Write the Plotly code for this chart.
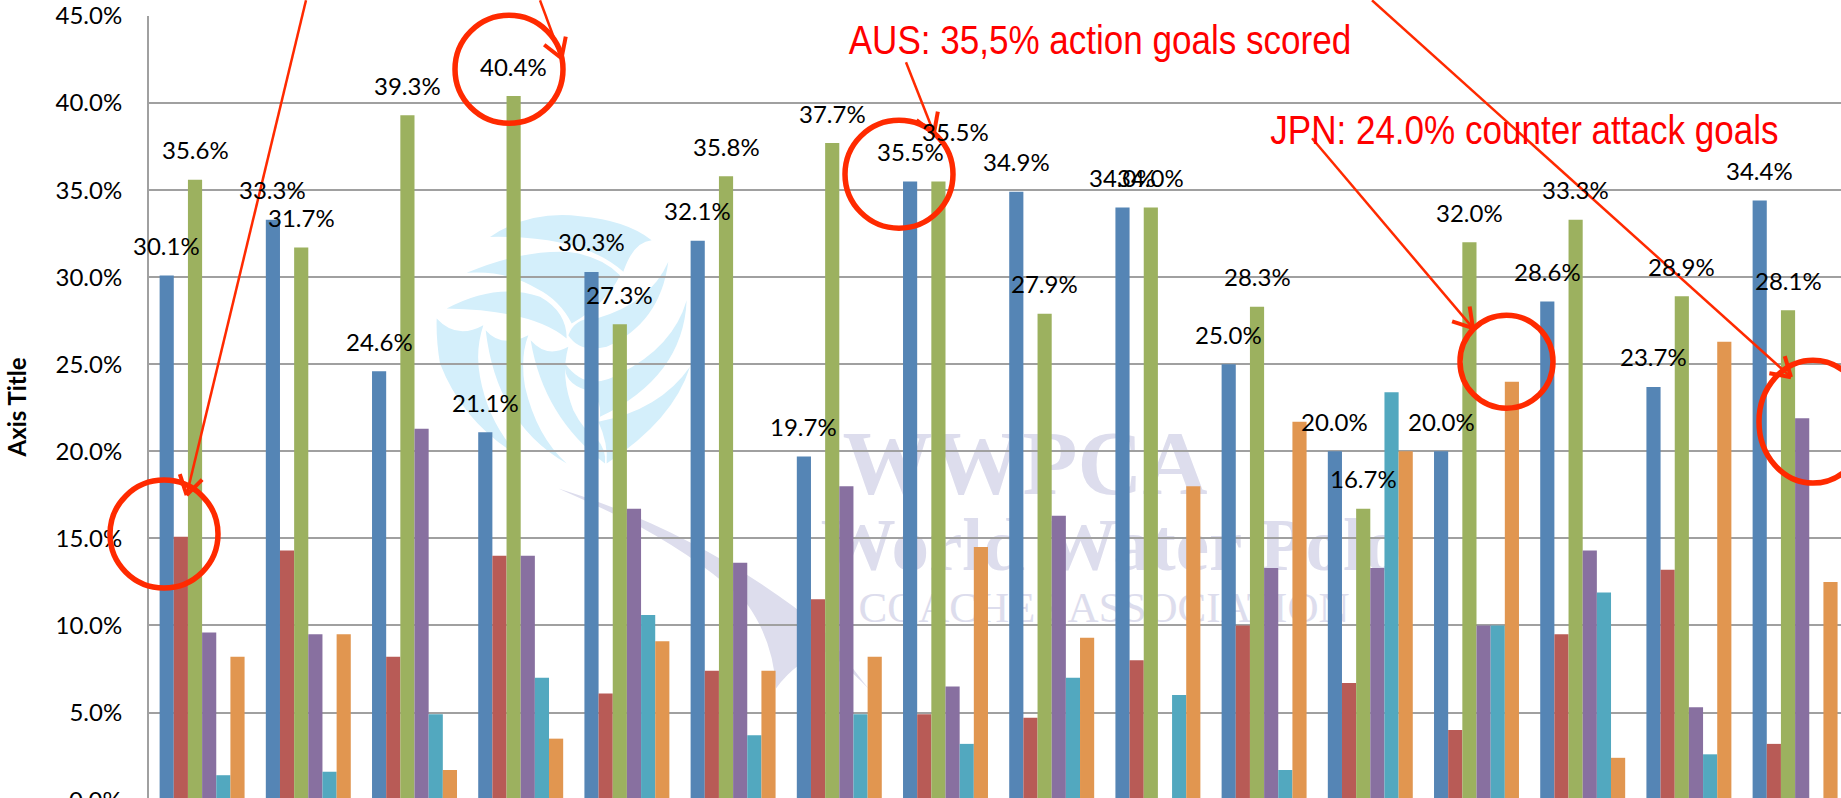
import math
import plotly.graph_objects as go

GROUPS = list(range(1, 17))
SERIES_A = [30.1, 33.3, 24.6, 21.1, 30.3, 32.1, 19.7, 35.5, 34.9, 34.0, 25.0, 20.0, 20.0, 28.6, 23.7, 34.4]
SERIES_B = [15.1, 14.3, 8.2, 14.0, 6.1, 7.4, 11.5, 4.9, 4.7, 8.0, 10.0, 6.7, 4.0, 9.5, 13.2, 3.2]
SERIES_C = [35.6, 31.7, 39.3, 40.4, 27.3, 35.8, 37.7, 35.5, 27.9, 34.0, 28.3, 16.7, 32.0, 33.3, 28.9, 28.1]
SERIES_D = [9.6, 9.5, 21.3, 14.0, 16.7, 13.6, 18.0, 6.5, 16.3, None, 13.3, 13.3, 10.0, 14.3, 5.3, 21.9]
SERIES_E = [1.4, 1.6, 4.9, 7.0, 10.6, 3.7, 4.9, 3.2, 7.0, 6.0, 1.7, 23.4, 10.0, 11.9, 2.6, None]
SERIES_F = [8.2, 9.5, 1.7, 3.5, 9.1, 7.4, 8.2, 14.5, 9.3, 18.0, 21.7, 20.0, 24.0, 2.4, 26.3, 12.5]
COLORS = ["#5585b5", "#b85b56", "#9cb15f", "#8870a0", "#52a8bf", "#e19650"]
TICKS = [5, 10, 15, 20, 25, 30, 35, 40, 45]

W, H = 1841, 798
L, T = 149, 15.7
PW, PH = W - L, H - T
SLOT = 106.2
BAR = SLOT * 0.8 / 6
FONT = "Lato"
RED = "#ff2a00"
GRID = "#a0a0a0"
SWIRL = "#d4effb"
LAV = "#dddded"


def px(x):
    return (x - L) / PW


def py(y):
    return 1 - (y - T) / PH


def path(points, ox=0, oy=0, sx=1.0, sy=1.0):
    """points: list of commands in source pixels; converted to paper fractions"""
    out = []
    for cmd in points:
        c, nums = cmd[0], cmd[1:]
        coords = []
        for i in range(0, len(nums), 2):
            coords.append(f"{px(ox + nums[i] / sx):.5f},{py(oy + nums[i + 1] / sy):.5f}")
        out.append(c + " ".join(coords))
    return " ".join(out) + " Z"


fig = go.Figure()
for vals, col in zip([SERIES_A, SERIES_B, SERIES_C, SERIES_D, SERIES_E, SERIES_F], COLORS):
    fig.add_bar(x=GROUPS, y=vals, marker=dict(color=col, line=dict(width=0)))

shapes = []
feathers = [
    [("M", 210, 140), ("Q", 330, 60, 480, 78), ("Q", 620, 90, 695, 150), ("Q", 640, 155, 610, 245), ("Q", 490, 135, 210, 140)],
    [("M", 140, 248), ("Q", 300, 180, 440, 185), ("Q", 540, 195, 600, 255), ("Q", 560, 340, 455, 400), ("Q", 420, 330, 350, 295), ("Q", 260, 240, 140, 248)],
    [("M", 80, 355), ("Q", 230, 275, 360, 320), ("Q", 440, 365, 440, 445), ("Q", 340, 360, 80, 355)],
    [("M", 50, 385), ("Q", 110, 450, 190, 405), ("Q", 165, 480, 180, 560), ("Q", 205, 700, 300, 800), ("Q", 130, 700, 60, 520), ("Q", 48, 450, 50, 385)],
    [("M", 197, 420), ("Q", 245, 475, 325, 435), ("Q", 300, 500, 315, 590), ("Q", 350, 740, 440, 820), ("Q", 230, 700, 197, 420)],
    [("M", 332, 450), ("Q", 380, 505, 445, 470), ("Q", 420, 560, 460, 660), ("Q", 490, 720, 530, 745), ("Q", 560, 780, 555, 820), ("Q", 370, 680, 332, 450)],
    [("M", 445, 435), ("Q", 465, 380, 530, 385), ("Q", 690, 340, 745, 215), ("Q", 720, 400, 560, 470), ("Q", 480, 490, 445, 435)],
    [("M", 435, 520), ("Q", 500, 610, 600, 550), ("Q", 760, 470, 800, 330), ("Q", 790, 560, 540, 680), ("Q", 545, 620, 500, 600), ("Q", 430, 580, 435, 520)],
    [("M", 810, 530), ("Q", 760, 690, 560, 820), ("Q", 565, 760, 535, 695), ("Q", 720, 660, 810, 530)],
]
for f in feathers:
    shapes.append(dict(type="path", xref="paper", yref="paper", layer="below", fillcolor=SWIRL, line=dict(width=0),
                       path=path(f, 420, 190, 3, 3)))

swoosh = [("M", 55, 55), ("C", 300, 130, 600, 270, 850, 480), ("L", 985, 655), ("Q", 900, 570, 860, 545),
          ("Q", 770, 570, 708, 655), ("Q", 700, 510, 620, 400), ("Q", 500, 280, 300, 170), ("Q", 180, 110, 55, 55)]
shapes.append(dict(type="path", xref="paper", yref="paper", layer="below", fillcolor=LAV, line=dict(width=0),
                   path=path(swoosh, 540, 470, 3, 3)))


def wm(text, x0, x1, y0, y1, size, weight, family="Liberation Serif"):
    shapes.append(dict(type="rect", xref="paper", yref="paper", layer="below",
                       x0=px(x0), x1=px(x1), y0=py(y1), y1=py(y0),
                       fillcolor="rgba(0,0,0,0)", line=dict(width=0),
                       label=dict(text=text, textposition="middle center",
                                  font=dict(family=family, size=size, color=LAV, weight=weight))))


wm("WWPCA", 841, 1209, 424, 482, 90, "bold")
wm("World Water Polo", 840, 1382, 511, 561, 75, "bold")
wm("COACHES ASSOCIATION", 853, 1355, 586, 618, 43, "normal")

ELLIPSES = [(110, 480, 218, 588), (455, 15, 563, 123), (845, 120, 953, 228), (1460, 315, 1553, 408), (1759, 360, 1867, 483)]
for x0, y0, x1, y1 in ELLIPSES:
    shapes.append(dict(type="circle", xref="paper", yref="paper", x0=px(x0), x1=px(x1), y0=py(y1), y1=py(y0),
                       line=dict(color=RED, width=5.5), fillcolor="rgba(0,0,0,0)"))

ARROWS = [(306, 0, 186.6, 495), (540, 0, 561.5, 58), (906, 62, 934, 133), (1312, 138, 1473, 328), (1372, 0, 1791, 377)]
for x0, y0, x1, y1 in ARROWS:
    shapes.append(dict(type="line", xref="paper", yref="paper", x0=px(x0), y0=py(y0), x1=px(x1), y1=py(y1),
                       line=dict(color=RED, width=2.5)))
    ang = math.atan2(y0 - y1, x0 - x1)
    for d in (-0.55, 0.55):
        shapes.append(dict(type="line", xref="paper", yref="paper", x0=px(x1), y0=py(y1),
                           x1=px(x1 + 22 * math.cos(ang + d)), y1=py(y1 + 22 * math.sin(ang + d)),
                           line=dict(color=RED, width=4)))

annotations = []
MOVED = {(2, 8): (17, 20)}  # label nudged off its neighbour in the reference
for k, vals in [(0, SERIES_A), (2, SERIES_C)]:
    for g, v in zip(GROUPS, vals):
        dx, dy = MOVED.get((k, g), (0, 0))
        annotations.append(dict(x=g, y=v, xref="x", yref="y", text=f"{v:.1f}%", showarrow=False,
                                xshift=(k - 2.5) * BAR + dx, yshift=30 + dy, xanchor="center", yanchor="middle",
                                font=dict(family=FONT, size=24, color="#000000")))

annotations.append(dict(x=px(124), y=py(799.6), xref="paper", yref="paper", text="0.0%", showarrow=False,
                        xanchor="right", yanchor="middle", font=dict(family=FONT, size=24, color="#000000")))
annotations.append(dict(x=px(1100), y=py(40), xref="paper", yref="paper", text="AUS: 35,5% action goals scored",
                        showarrow=False, xanchor="center", yanchor="middle",
                        font=dict(family="Liberation Sans", size=41, color="#ff0000")))
annotations.append(dict(x=px(1524), y=py(130), xref="paper", yref="paper", text="JPN: 24.0% counter attack goals",
                        showarrow=False, xanchor="center", yanchor="middle",
                        font=dict(family="Liberation Sans", size=41, color="#ff0000")))

fig.update_layout(
    width=W, height=H, autosize=False,
    margin=dict(l=L, r=0, t=T, b=0, pad=0),
    paper_bgcolor="#ffffff", plot_bgcolor="rgba(0,0,0,0)",
    barmode="group", bargap=0.2, bargroupgap=0,
    showlegend=False, shapes=shapes, annotations=annotations,
    xaxis=dict(range=[0.5, 0.5 + PW / SLOT], showticklabels=False, showgrid=False, zeroline=False, ticks=""),
    yaxis=dict(range=[1.6 / 87.1 * 5, 45], tickvals=TICKS, ticktext=[f"{t:.1f}%" for t in TICKS],
               showgrid=True, gridcolor=GRID, gridwidth=2, zeroline=False,
               showline=True, linecolor=GRID, linewidth=2,
               ticks="outside", ticklen=20, tickcolor="rgba(0,0,0,0)",
               tickfont=dict(family=FONT, size=24, color="#000000"),
               title=dict(text="<b>Axis Title</b>", standoff=22, font=dict(family=FONT, size=24, color="#000000"))),
)

POST = """
document.body.style.margin='0';document.body.style.overflow='hidden';
function narrowRed(){
  document.querySelectorAll('.annotation-text').forEach(function(t){
    if(t.textContent.indexOf('goals')>=0){
      t.style.transformBox='fill-box';t.style.transformOrigin='center';t.style.transform='scaleX(0.855)';
    }
  });
}
narrowRed();setTimeout(narrowRed,100);setTimeout(narrowRed,500);
"""
fig.write_html("out.html", config={"displayModeBar": False}, post_script=POST)
